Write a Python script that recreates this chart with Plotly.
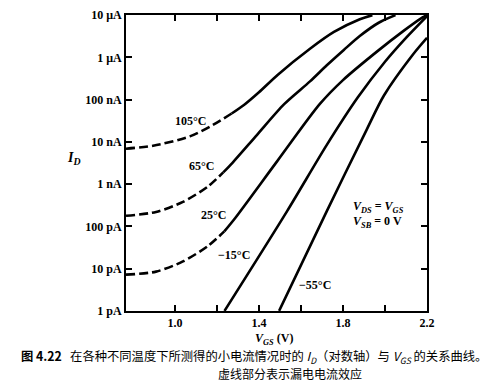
import plotly.graph_objects as go

# ---- data (V_GS in volts, I_D in amperes) ----
v_105_dash = [0.767, 0.896, 1.071, 1.18, 1.27]
i_105_dash = [6.9e-9, 8.1e-9, 1.35e-8, 2.5e-8, 4.7e-8]
v_105 = [1.27, 1.33, 1.40, 1.49, 1.643, 1.757, 1.88, 1.94]
i_105 = [4.7e-8, 7.6e-8, 1.5e-7, 3.9e-7, 1.6e-6, 4.0e-6, 8.0e-6, 1.0e-5]

v_65_dash = [0.767, 0.91, 1.038, 1.156, 1.23]
i_65_dash = [1.78e-10, 2.2e-10, 3.8e-10, 8.7e-10, 1.9e-9]
v_65 = [1.23, 1.274, 1.39, 1.52, 1.643, 1.723, 1.804, 1.88, 1.97, 2.05]
i_65 = [1.9e-9, 3.2e-9, 1.45e-8, 7.8e-8, 2.7e-7, 6.5e-7, 1.5e-6, 3.2e-6, 6.6e-6, 1.0e-5]

v_25_dash = [0.767, 0.91, 1.038, 1.156, 1.235]
i_25_dash = [7.2e-12, 8.5e-12, 1.48e-11, 3.4e-11, 7.6e-11]
v_25 = [1.235, 1.288, 1.487, 1.69, 1.80, 1.96, 2.09, 2.17, 2.2]
i_25 = [7.6e-11, 1.6e-10, 3.5e-9, 7.9e-8, 2.9e-7, 1.35e-6, 4.3e-6, 8.3e-6, 1.0e-5]

v_m15 = [1.236, 1.534, 1.723, 1.87, 2.0, 2.1, 2.2]
i_m15 = [1e-12, 2.3e-10, 8.5e-9, 1.12e-7, 7.9e-7, 2.9e-6, 9.5e-6]

v_m55 = [1.496, 1.723, 1.913, 1.995, 2.135, 2.2]
i_m55 = [1e-12, 2.3e-10, 1.95e-8, 1.25e-7, 1.2e-6, 2.9e-6]

x_tickvals = [1.0, 1.4, 1.8, 2.2]
x_ticktext = ["1.0", "1.4", "1.8", "2.2"]
x_minorvals = [1.2, 1.6, 2.0]
y_tickvals = [1e-12, 1e-11, 1e-10, 1e-9, 1e-8, 1e-7, 1e-6, 1e-5]
y_ticktext = ["1 pA", "10 pA", "100 pA", "1 nA", "10 nA", "100 nA", "1 μA", "10 μA"]

# ---- figure ----
W, H = 492, 383
L, R, T, B = 118, 73, 7, 80
pw, ph = W - L - R, H - T - B

def px(x):
    return (x - L) / pw

def py(y):
    return (H - B - y) / ph

fig = go.Figure()
for vx, iy in [(v_105_dash, i_105_dash), (v_65_dash, i_65_dash), (v_25_dash, i_25_dash)]:
    fig.add_trace(go.Scatter(x=vx, y=iy, mode="lines",
                             line=dict(color="black", width=2.6, dash="9px,4px",
                                       shape="spline", smoothing=0.8),
                             showlegend=False, hoverinfo="skip"))
for vx, iy in [(v_105, i_105), (v_65, i_65), (v_25, i_25), (v_m15, i_m15), (v_m55, i_m55)]:
    fig.add_trace(go.Scatter(x=vx, y=iy, mode="lines",
                             line=dict(color="black", width=2.6, shape="spline", smoothing=0.8),
                             showlegend=False, hoverinfo="skip"))

serif = "Liberation Serif"
cjk = "Noto Sans CJK SC"

axis_common = dict(showline=True, linecolor="black", linewidth=2, mirror="ticks",
                   ticks="inside", ticklen=6, tickwidth=1.5, tickcolor="black",
                   showgrid=False, zeroline=False, ticklabeloverflow="allow",
                   tickfont=dict(family=serif, size=12, color="black", weight="bold"))

fig.update_xaxes(range=[0.767, 2.2], tickmode="array", tickvals=x_tickvals,
                 ticktext=x_ticktext,
                 minor=dict(tickmode="array", tickvals=x_minorvals, ticks="inside",
                            ticklen=6, tickwidth=1.5, tickcolor="black", showgrid=False),
                 **axis_common)
fig.update_yaxes(type="log", range=[-12.003, -4.997], tickmode="array", tickvals=y_tickvals,
                 ticktext=y_ticktext, **axis_common)

annots = []
def lab(text, x, y, size=12, family=serif, xanchor="center"):
    annots.append(dict(text=text, x=px(x), y=py(y), xref="paper", yref="paper",
                       showarrow=False, xanchor=xanchor, yanchor="middle",
                       font=dict(family=family, size=size, color="black")))

lab("<b>105°C</b>", 182, 113)
lab("<b>65°C</b>", 193, 158)
lab("<b>25°C</b>", 205, 207)
lab("<b>−15°C</b>", 226, 247)
lab("<b>−55°C</b>", 307, 277)
lab("<b><i>V</i><sub><i>DS</i></sub> = <i>V</i><sub><i>GS</i></sub></b>", 343, 199, xanchor="left")
lab("<b><i>V</i><sub><i>SB</i></sub> = 0 V</b>", 343, 214, xanchor="left")
lab("<b><i>I</i><sub><i>D</i></sub></b>", 66, 150, size=14)
lab("<b><i>V</i><sub><i>GS</i></sub> (V)</b>", 266, 331, size=12)

# caption
lab("<b>图 4.22</b>   在各种不同温度下所测得的小电流情况时的 "
    "<i>I</i><sub><i>D</i></sub>（对数轴）与 <i>V</i><sub><i>GS</i></sub> 的关系曲线。",
    246, 348, size=12.3, family=cjk)
lab("虚线部分表示漏电电流效应", 282, 366, size=12, family=cjk)

fig.update_layout(width=W, height=H, margin=dict(l=L, r=R, t=T, b=B, autoexpand=False),
                  paper_bgcolor="white", plot_bgcolor="white", annotations=annots,
                  showlegend=False)

fig.write_html("out.html", config={"displayModeBar": False})
